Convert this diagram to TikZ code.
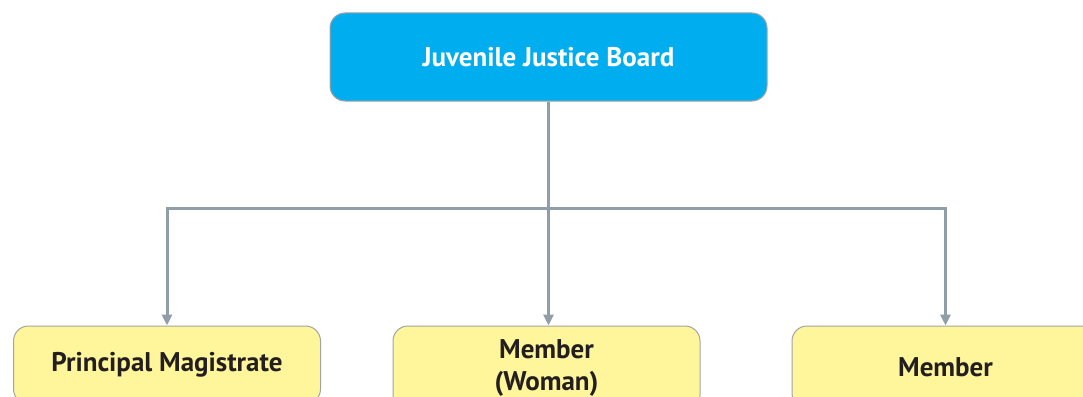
\documentclass[tikz,border=0pt]{standalone}
\usepackage{fontspec}
\setmainfont{PT Sans}
\usetikzlibrary{arrows.meta}
\definecolor{boardblue}{HTML}{00AEEF}
\definecolor{memberyellow}{HTML}{FFF59B}
\definecolor{boxedge}{HTML}{A4A4A4}
\definecolor{linkgray}{HTML}{8F9EA7}
\definecolor{inkdark}{HTML}{231F20}
\begin{document}
\begin{tikzpicture}[x=1pt,y=-1pt,
  topbox/.style={draw=boxedge,line width=1pt,fill=boardblue,rounded corners=15pt,
    minimum width=437pt,minimum height=88pt,text=white,font=\bfseries\fontsize{27}{32}\selectfont},
  memberbox/.style={draw=boxedge,line width=1pt,fill=memberyellow,rounded corners=15pt,
    minimum width=307pt,text=inkdark,align=center,font=\bfseries\fontsize{27}{32}\selectfont},
  link/.style={draw=linkgray,line width=3pt,-{Triangle[length=11pt,width=10pt]}}]
\useasboundingbox (0,0) rectangle (1083,396);
\clip (0,0) rectangle (1083,396);
\fill[white] (0,0) rectangle (1083,396);
\node[topbox] (jjb) at (548.5,57) {Juvenile Justice Board};
\node[memberbox,minimum height=78pt] (pm) at (167,365) {Principal Magistrate};
\node[memberbox,minimum height=84pt] (mw) at (546.5,368) {Member\\(Woman)};
\node[memberbox,minimum height=82pt] (mem) at (945.5,367) {Member};
\coordinate (bus) at (548,208);
\draw[link] (jjb.south) -- (jjb.south |- bus) -| (pm.north);
\draw[link] (jjb.south) -- (jjb.south |- bus) -| (mem.north);
\draw[link] (jjb.south) -- (jjb.south |- mw.north);
\end{tikzpicture}
\end{document}
